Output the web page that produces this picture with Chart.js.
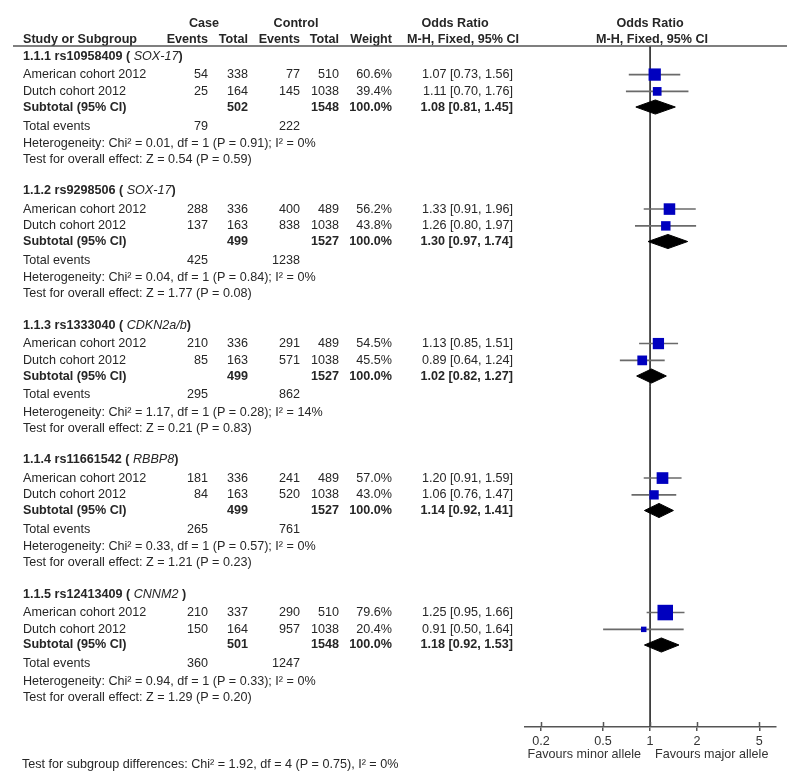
<!DOCTYPE html>
<html>
<head>
<meta charset="utf-8">
<script src="https://cdn.jsdelivr.net/npm/chart.js@4.4.1/dist/chart.umd.min.js"></script>
<style>
  html, body { margin: 0; padding: 0; background: #fff; }
  #wrap { width: 800px; height: 782px; }
</style>
</head>
<body>
<div id="wrap"><canvas id="forest" width="800" height="782"></canvas></div>
<script>
// ---- values ----
const subgroupIds = ["1.1.1", "1.1.2", "1.1.3", "1.1.4", "1.1.5"];
const snps = ["rs10958409", "rs9298506", "rs1333040", "rs11661542", "rs12413409"];
const genes = ["SOX-17", "SOX-17", "CDKN2a/b", "RBBP8", "CNNM2"];
const studies = ["American cohort 2012", "Dutch cohort 2012"];

const caseEvents = [[54, 25], [288, 137], [210, 85], [181, 84], [210, 150]];
const caseTotal = [[338, 164], [336, 163], [336, 163], [336, 163], [337, 164]];
const ctrlEvents = [[77, 145], [400, 838], [291, 571], [241, 520], [290, 957]];
const ctrlTotal = [[510, 1038], [489, 1038], [489, 1038], [489, 1038], [510, 1038]];
const weights = [[60.6, 39.4], [56.2, 43.8], [54.5, 45.5], [57.0, 43.0], [79.6, 20.4]];
const oddsRatio = [[1.07, 1.11], [1.33, 1.26], [1.13, 0.89], [1.20, 1.06], [1.25, 0.91]];
const ciLow = [[0.73, 0.70], [0.91, 0.80], [0.85, 0.64], [0.91, 0.76], [0.95, 0.50]];
const ciHigh = [[1.56, 1.76], [1.96, 1.97], [1.51, 1.24], [1.59, 1.47], [1.66, 1.64]];

const subOR = [1.08, 1.30, 1.02, 1.14, 1.18];
const subLow = [0.81, 0.97, 0.82, 0.92, 0.92];
const subHigh = [1.45, 1.74, 1.27, 1.41, 1.53];
const subCaseTotal = [502, 499, 499, 499, 501];
const subCtrlTotal = [1548, 1527, 1527, 1527, 1548];
const totalCase = [79, 425, 295, 265, 360];
const totalCtrl = [222, 1238, 862, 761, 1247];

const hetChi = ["0.01", "0.04", "1.17", "0.33", "0.94"];
const hetP = ["0.91", "0.84", "0.28", "0.57", "0.33"];
const hetI2 = ["0%", "0%", "14%", "0%", "0%"];
const zVal = ["0.54", "1.77", "0.21", "1.21", "1.29"];
const zP = ["0.59", "0.08", "0.83", "0.23", "0.20"];

const xTicks = [0.2, 0.5, 1, 2, 5];
const subgroupTest = "Test for subgroup differences: Chi\u00b2 = 1.92, df = 4 (P = 0.75), I\u00b2 = 0%";

// ---- layout (row units on the y scale) ----
const GROUP_STEP = 8;
const OFF = { head: 0, s0: 1.1, s1: 2.1, sub: 3.03, tot: 4.16, het: 5.18, test: 6.13 };
const Y_MIN = -0.6, Y_MAX = 39.9;
const DIAMOND_H = 0.42;
const FONT = "'Liberation Sans', Arial, sans-serif";
const FSIZE = 12.6;
const TXT = "#262626";

function row(g, key) { return g * GROUP_STEP + OFF[key]; }
function sq(w) { return (0.17 * w + 2) / Math.SQRT2; } // square side from weight

//--------------------------------------------------------
const datasets = [];

// line of no effect
datasets.push({
  type: "line",
  data: [{ x: 1, y: Y_MIN }, { x: 1, y: Y_MAX }],
  borderColor: "#333",
  borderWidth: 1,
  pointRadius: 0,
  order: 3,
});

// whiskers
subgroupIds.forEach((id, g) => {
  studies.forEach((s, k) => {
    const r = row(g, k === 0 ? "s0" : "s1");
    datasets.push({
      type: "line",
      data: [{ x: ciLow[g][k], y: r }, { x: ciHigh[g][k], y: r }],
      borderColor: "#6a6a6a",
      borderWidth: 1.6,
      pointRadius: 0,
      order: 2,
    });
  });
});

// study squares
const sqPts = [];
const sqRad = [];
subgroupIds.forEach((id, g) => {
  studies.forEach((s, k) => {
    sqPts.push({ x: oddsRatio[g][k], y: row(g, k === 0 ? "s0" : "s1") });
    sqRad.push(sq(weights[g][k]));
  });
});
datasets.push({
  type: "scatter",
  data: sqPts,
  pointStyle: "rect",
  pointRadius: sqRad,
  backgroundColor: "#0000bf",
  borderColor: "#0000bf",
  borderWidth: 0,
  order: 0,
});

// subtotal diamonds
subgroupIds.forEach((id, g) => {
  const r = row(g, "sub");
  datasets.push({
    type: "line",
    data: [
      { x: subLow[g], y: r },
      { x: subOR[g], y: r - DIAMOND_H },
      { x: subHigh[g], y: r },
      { x: subOR[g], y: r + DIAMOND_H },
      { x: subLow[g], y: r },
    ],
    borderColor: "#000",
    backgroundColor: "#000",
    borderWidth: 1,
    pointRadius: 0,
    tension: 0,
    fill: "shape",
    order: 1,
  });
});

//--------------------------------------------------------
function fmtOR(v, lo, hi) {
  return v.toFixed(2) + " [" + lo.toFixed(2) + ", " + hi.toFixed(2) + "]";
}

const tablePlugin = {
  id: "table",
  afterDraw(chart) {
    const ctx = chart.ctx;
    const ys = chart.scales.y;
    const xs = chart.scales.x;
    const area = chart.chartArea;
    ctx.save();
    ctx.fillStyle = TXT;
    ctx.textBaseline = "middle";

    const put = (s, x, py, align, bold, italic) => {
      ctx.font = (italic ? "italic " : "") + (bold ? "bold " : "") + FSIZE + "px " + FONT;
      ctx.textAlign = align || "left";
      ctx.fillText(s, x, py);
      return ctx.measureText(s).width;
    };
    const at = (r) => ys.getPixelForValue(r);

    // header rows
    const h1 = at(-1.96), h2 = at(-1.0);
    put("Case", 204, h1, "center", true);
    put("Control", 296, h1, "center", true);
    put("Odds Ratio", 455, h1, "center", true);
    put("Odds Ratio", 650, h1, "center", true);
    put("Study or Subgroup", 23, h2, "left", true);
    put("Events", 208, h2, "right", true);
    put("Total", 248, h2, "right", true);
    put("Events", 300, h2, "right", true);
    put("Total", 339, h2, "right", true);
    put("Weight", 392, h2, "right", true);
    put("M-H, Fixed, 95% CI", 463, h2, "center", true);
    put("M-H, Fixed, 95% CI", 652, h2, "center", true);

    // rule under header
    ctx.strokeStyle = "#555";
    ctx.lineWidth = 1.5;
    ctx.beginPath();
    ctx.moveTo(13, area.top);
    ctx.lineTo(787, area.top);
    ctx.stroke();

    // upper half of the axis ticks (they cross the axis line)
    ctx.beginPath();
    xTicks.forEach((v) => {
      const px = Math.round(xs.getPixelForValue(v)) + 0.5;
      ctx.moveTo(px, area.bottom - 5);
      ctx.lineTo(px, area.bottom);
    });
    ctx.stroke();

    subgroupIds.forEach((id, g) => {
      // subgroup title
      let py = at(row(g, "head"));
      let x = 23;
      x += put(id + " " + snps[g] + " ( ", x, py, "left", true);
      x += put(genes[g], x, py, "left", false, true);
      put(g === 4 ? " )" : ")", x, py, "left", true);

      studies.forEach((s, k) => {
        py = at(row(g, k === 0 ? "s0" : "s1"));
        put(s, 23, py, "left");
        put(String(caseEvents[g][k]), 208, py, "right");
        put(String(caseTotal[g][k]), 248, py, "right");
        put(String(ctrlEvents[g][k]), 300, py, "right");
        put(String(ctrlTotal[g][k]), 339, py, "right");
        put(weights[g][k].toFixed(1) + "%", 392, py, "right");
        put(fmtOR(oddsRatio[g][k], ciLow[g][k], ciHigh[g][k]), 513, py, "right");
      });

      py = at(row(g, "sub"));
      put("Subtotal (95% CI)", 23, py, "left", true);
      put(String(subCaseTotal[g]), 248, py, "right", true);
      put(String(subCtrlTotal[g]), 339, py, "right", true);
      put("100.0%", 392, py, "right", true);
      put(fmtOR(subOR[g], subLow[g], subHigh[g]), 513, py, "right", true);

      py = at(row(g, "tot"));
      put("Total events", 23, py, "left");
      put(String(totalCase[g]), 208, py, "right");
      put(String(totalCtrl[g]), 300, py, "right");

      put("Heterogeneity: Chi\u00b2 = " + hetChi[g] + ", df = 1 (P = " + hetP[g] + "); I\u00b2 = " + hetI2[g],
        23, at(row(g, "het")), "left");
      put("Test for overall effect: Z = " + zVal[g] + " (P = " + zP[g] + ")",
        23, at(row(g, "test")), "left");
    });

    // favours labels + subgroup differences line
    ctx.fillStyle = "#333";
    put("Favours minor allele", 641, area.bottom + 28, "right");
    put("Favours major allele", 655, area.bottom + 28, "left");
    ctx.fillStyle = TXT;
    put(subgroupTest, 22, area.bottom + 38, "left");
    ctx.restore();
  },
};

//--------------------------------------------------------
const ctx = document.getElementById("forest");
new Chart(ctx, {
  type: "scatter",
  data: { datasets },
  options: {
    responsive: false,
    animation: false,
    devicePixelRatio: 1,
    layout: { padding: { left: 525, right: 24, top: 46, bottom: 30 } },
    plugins: { legend: { display: false }, tooltip: { enabled: false } },
    scales: {
      x: {
        type: "logarithmic",
        min: 0.158,
        max: 6.4,
        afterBuildTicks: (axis) => {
          axis.ticks = xTicks.map((v) => ({ value: v }));
        },
        ticks: {
          autoSkip: false,
          maxRotation: 0,
          padding: 3,
          color: "#333",
          font: { size: FSIZE, family: FONT },
          callback: (v) => String(v),
        },
        grid: { drawOnChartArea: false, drawTicks: true, tickLength: 4, color: "#555", lineWidth: 1.5 },
        border: { display: true, color: "#555", width: 1.5 },
      },
      y: {
        type: "linear",
        display: false,
        reverse: true,
        min: Y_MIN,
        max: Y_MAX,
      },
    },
  },
  plugins: [tablePlugin],
});
</script>
</body>
</html>
